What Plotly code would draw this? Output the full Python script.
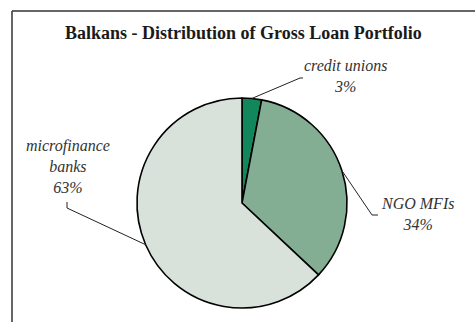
import math
import plotly.graph_objects as go

# Gross loan portfolio shares, Balkans
segments = ["credit unions", "NGO MFIs", "microfinance<br>banks"]
shares = [3, 34, 63]
colors = ["#12875b", "#84ae94", "#d8e2db"]

W, H = 475, 322
CX, CY, R = 242, 203, 105  # pie centre / radius in px


def px(x):
    return x / W


def py(y):
    return 1 - y / H


fig = go.Figure(
    go.Pie(
        labels=segments,
        values=shares,
        sort=False,
        direction="clockwise",
        rotation=0,
        textinfo="none",
        hoverinfo="label+percent",
        marker=dict(colors=colors, line=dict(color="#000000", width=1.6)),
        domain=dict(x=[px(CX - R), px(CX + R)], y=[py(CY + R), py(CY - R)]),
        showlegend=False,
    )
)

# label placement: (text centre x, text centre y, elbow point, leader end point)
label_layout = [
    (345, 76, (300, 78), (303, 78)),
    (417, 214, (372, 215), (378, 215)),
    (68, 166, (67, 208), (67, 202)),
]

total = sum(shares)
start = 0.0
shapes = []
annotations = []
for name, val, (tx, ty, elbow, end) in zip(segments, shares, label_layout):
    frac = val / total
    mid = (start + frac / 2) * 2 * math.pi
    start += frac
    ex = CX + R * math.sin(mid)
    ey = CY - R * math.cos(mid)
    path = f"M {px(ex)} {py(ey)} L {px(elbow[0])} {py(elbow[1])} L {px(end[0])} {py(end[1])}"
    shapes.append(dict(type="path", xref="paper", yref="paper", path=path,
                       line=dict(color="#222222", width=1)))
    annotations.append(dict(
        x=px(tx), y=py(ty), xref="paper", yref="paper", showarrow=False,
        xanchor="center", yanchor="middle", align="center",
        text=f"<i>{name}<br>{round(frac * 100)}%</i>",
        font=dict(family="Liberation Serif", size=16, color="#333333"),
    ))

# chart frame (top and left edges)
shapes.append(dict(type="line", xref="paper", yref="paper",
                   x0=px(12), y0=py(11), x1=1.02, y1=py(11),
                   line=dict(color="#333333", width=1.5)))
shapes.append(dict(type="line", xref="paper", yref="paper",
                   x0=px(12), y0=py(11), x1=px(12), y1=-0.05,
                   line=dict(color="#333333", width=1.5)))

annotations.append(dict(
    x=px(244), y=py(33), xref="paper", yref="paper", showarrow=False,
    xanchor="center", yanchor="middle",
    text="<b>Balkans - Distribution of Gross Loan Portfolio</b>",
    font=dict(family="Liberation Serif", size=18, color="#1a1a1a"),
))

fig.update_layout(
    width=W, height=H,
    margin=dict(l=0, r=0, t=0, b=0),
    paper_bgcolor="white",
    plot_bgcolor="white",
    shapes=shapes,
    annotations=annotations,
)

fig.write_html("out.html")
